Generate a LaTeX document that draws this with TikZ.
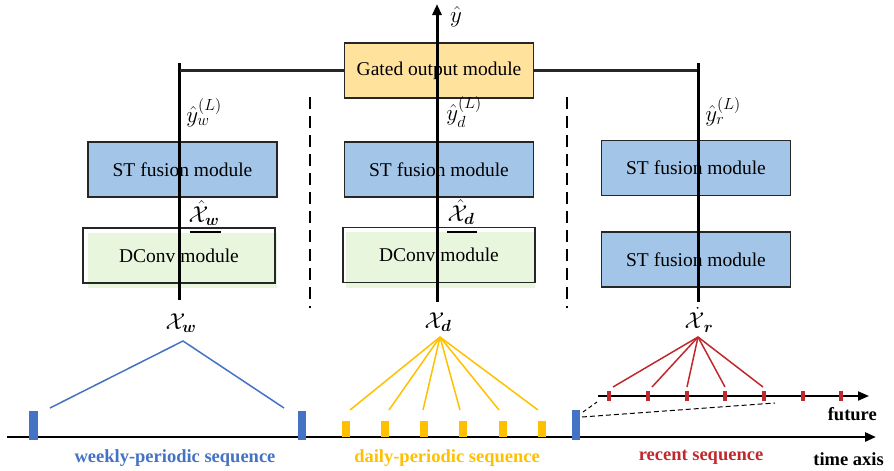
\RequirePackage{fix-cm}
\documentclass[tikz,border=0pt]{standalone}
\usepackage{amsmath}
\usepackage{fontspec}
\setmainfont{Liberation Serif}
\usetikzlibrary{arrows.meta}
\definecolor{gateFill}{HTML}{FFE29C}
\definecolor{stFill}{HTML}{A3C5E7}
\definecolor{dcFill}{HTML}{E8F6DE}
\definecolor{weekBlue}{HTML}{4472C4}
\definecolor{dayYellow}{HTML}{FFC000}
\definecolor{recRed}{HTML}{C0282D}
\tikzset{
  box/.style={draw=black!85, line width=1.4pt, minimum width=189pt, minimum height=55pt, inner sep=0pt, font=\fontsize{19.5}{22}\selectfont},
  gatebox/.style={box, fill=gateFill},
  stbox/.style={box, fill=stFill},
  dcbox/.style={box, minimum width=192pt},
  mainline/.style={line width=3pt, black},
  sepline/.style={line width=2.5pt, dash pattern=on 12pt off 7pt},
  lbl/.style={inner sep=0pt, font=\fontsize{23}{26}\selectfont},
  seqlbl/.style={inner sep=0pt, font=\fontsize{18.5}{22}\selectfont\bfseries},
  wline/.style={weekBlue, line width=1.5pt},
  dline/.style={dayYellow, line width=1.5pt},
  rline/.style={recRed, line width=1.5pt},
}
\begin{document}
\begin{tikzpicture}[x=1pt,y=-1pt]
\useasboundingbox (0,0) rectangle (894,471);
% DConv fills (offset)
\fill[dcFill] (88,233) rectangle (277,288);
\fill[dcFill] (346,232) rectangle (535,288);
% boxes
\node[gatebox] (gate) at (439,70.5) {Gated output module};
\node[stbox] (stw) at (182.5,169.5) {ST fusion module};
\node[stbox] (std) at (439,169.5) {ST fusion module};
\node[stbox] (str1) at (696,168) {ST fusion module};
\node[stbox] (str2) at (696,259.5) {ST fusion module};
\node[dcbox] (dcw) at (179,255.5) {DConv module};
\node[dcbox] (dcd) at (439,255) {DConv module};
% labels
\node[lbl] (yhat) at (456,17) {$\hat{y}$};
\node[lbl] (yw) at (204,113) {$\hat{y}_w^{(L)}$};
\node[lbl] (yd) at (464,112) {$\hat{y}_d^{(L)}$};
\node[lbl] (yr) at (723,112) {$\hat{y}_r^{(L)}$};
\node[lbl] (xhw) at (204,213) {$\hat{\mathcal{X}}_{\boldsymbol{w}}$};
\node[lbl] (xhd) at (461,212) {$\hat{\mathcal{X}}_{\boldsymbol{d}}$};
\node[lbl] (xw) at (181,323) {$\mathcal{X}_{\boldsymbol{w}}$};
\node[lbl] (xd) at (438,322) {$\mathcal{X}_{\boldsymbol{d}}$};
\node[lbl] (xr) at (699,320) {$\dot{\mathcal{X}}_{\,\boldsymbol{r}}$};
% bars under hats
\draw[line width=2pt] (190,232) -- (221,232);
\draw[line width=2pt] (447,232) -- (477,232);
% coordinates for main lines
\coordinate (lwTop) at (179,63);
\coordinate (lwBot) at (179,300);
\coordinate (ldTop) at (437,4);
\coordinate (ldBot) at (437,302);
\coordinate (lrTop) at (698,63);
\coordinate (lrBot) at (698,302);
\coordinate (hl) at (180,70.5);
\coordinate (hr) at (697,70.5);
\draw[mainline] (lwTop) -- (lwBot);
\draw[mainline] (lrTop) -- (lrBot);
\draw[mainline, -{Triangle[length=11pt,width=9pt]}] (ldBot) -- (ldTop);
\draw[line width=2.2pt, black!85] (hl) -- (gate.west);
\draw[line width=2.2pt, black!85] (gate.east) -- (hr);
% separators
\coordinate (s1t) at (310,97); \coordinate (s1b) at (310,308);
\coordinate (s2t) at (567,97); \coordinate (s2b) at (567,308);
\draw[sepline] (s1t) -- (s1b);
\draw[sepline] (s2t) -- (s2b);
% time axis
\coordinate (taL) at (7,437);
\coordinate (taR) at (876,437);
\draw[line width=2.5pt, -{Triangle[length=11pt,width=9pt]}] (taL) -- (taR);
\node[seqlbl, anchor=east] (tlab) at (884,459) {time axis};
% future axis
\coordinate (faL) at (598,396);
\coordinate (faR) at (869,396);
\draw[line width=2pt, -{Triangle[length=11pt,width=9pt]}] (faL) -- (faR);
\node[seqlbl, anchor=east] (flab) at (877,414) {future};
% weekly
\fill[weekBlue] (29,411) rectangle (38,440);
\fill[weekBlue] (298,411) rectangle (306,440);
\fill[weekBlue] (572,410) rectangle (580,440);
\coordinate (aw) at (183,341);
\coordinate (wl) at (50,408);
\coordinate (wr) at (284,408);
\draw[wline] (wl) -- (aw) -- (wr);
\node[seqlbl, text=weekBlue] (wlab) at (175,458) {weekly-periodic sequence};
% daily
\coordinate (ad) at (440,337);
\foreach \bx/\ex in {346/350, 385/389, 424/423, 463/460, 503/499, 542/538} {
  \fill[dayYellow] (\bx-4,421) rectangle (\bx+4,437);
  \coordinate (de) at (\ex,410);
  \draw[dline] (ad) -- (de);
}
\node[seqlbl, text=dayYellow] (dlab) at (447,458) {daily-periodic sequence};
% recent
\coordinate (ar) at (698,337);
\foreach \bx in {609,648,687,725,764,803,841} {
  \fill[recRed] (\bx-2,391) rectangle (\bx+2,401);
}
\foreach \ex in {613,652,687,725,763} {
  \coordinate (re) at (\ex,387);
  \draw[rline] (ar) -- (re);
}
\node[seqlbl, text=recRed] (rlab) at (701,457) {recent sequence};
% zoom dashes
\coordinate (zb1) at (582,417);
\coordinate (ze1) at (775,403);
\coordinate (zb2) at (583,412);
\coordinate (ze2) at (597,402);
\draw[line width=1pt, dash pattern=on 5pt off 3pt] (zb1) -- (ze1);
\draw[line width=1pt, dash pattern=on 4pt off 3pt] (zb2) -- (ze2);
\end{tikzpicture}
\end{document}
